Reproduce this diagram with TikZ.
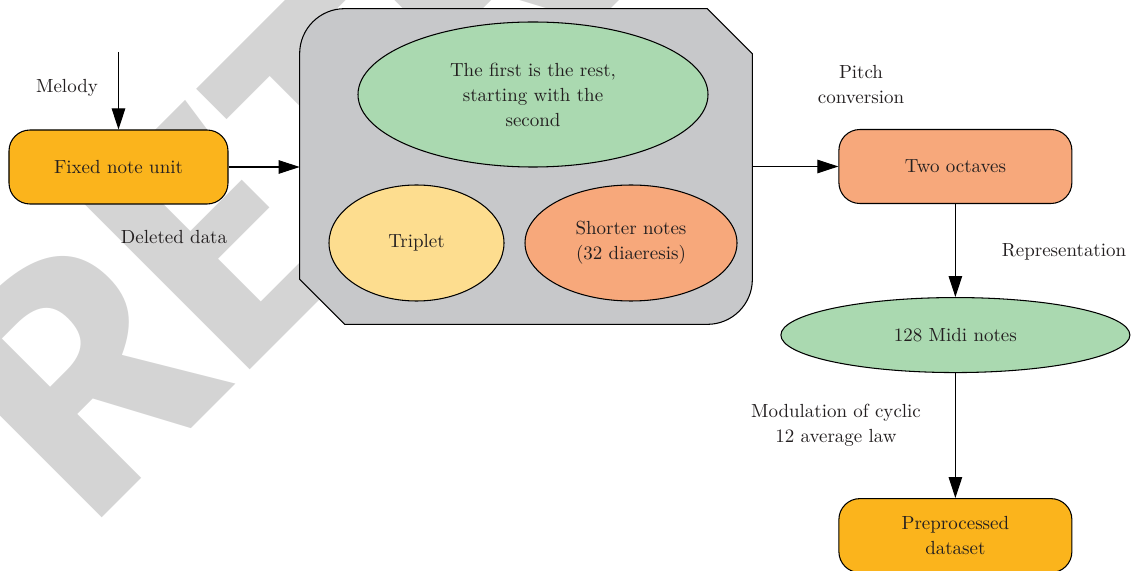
\documentclass[tikz,border=0pt]{standalone}
\usepackage{fontspec}
\newfontfamily\markfont{Fira Sans}
\usetikzlibrary{shapes,arrows.meta,positioning}
\definecolor{myorange}{RGB}{251,180,28}
\definecolor{mygreen}{RGB}{170,217,176}
\definecolor{myyellow}{RGB}{253,221,143}
\definecolor{mysalmon}{RGB}{247,168,123}
\definecolor{mygray}{RGB}{199,200,202}
\definecolor{mymark}{RGB}{212,212,212}
\definecolor{myink}{RGB}{35,31,32}

\begin{document}
\begin{tikzpicture}[
    font=\fontsize{10.8}{14.2}\selectfont,
    unit/.style={rectangle, draw, fill=myorange, text=myink, minimum width=4.38cm, minimum height=1.48cm, rounded corners=0.42cm, align=center, line width=0.6pt},
    idea/.style={ellipse, draw, text=myink, align=center, line width=0.6pt, inner sep=1pt},
    tag/.style={text=myink, align=center, inner sep=0pt},
    panel/.style={draw, fill=mygray, line width=0.6pt},
    watermark/.style={rotate=45, anchor=base west, inner sep=0pt, text=mymark, font=\markfont\bfseries\fontsize{194}{194}\selectfont},
    arrow/.style={-{Triangle[length=0.42cm, width=0.27cm]}, line width=0.6pt}
]
\useasboundingbox (0,0) rectangle (22.7,11.4);
\clip (0,0) rectangle (22.7,11.4);

% Stamp behind everything
\node[watermark] (stamp) at (1.72,0.72) {RETRACTED};

% Input side
\node[unit] (fixed) at (2.37,8.06) {Fixed note unit};
\coordinate (melody-in) at (2.37,10.36);
\node[tag] (melody) at (1.34,9.64) {Melody};
\node[tag] (deleted) at (3.48,6.66) {Deleted data};

% Processing block
\node[minimum width=9.04cm, minimum height=6.3cm, inner sep=0pt] (block) at (10.52,8.07) {};
\draw[panel] ([yshift=-0.9cm]block.north east) -- ([xshift=-0.9cm]block.north east)
    -- ([xshift=0.9cm]block.north west) arc[start angle=90, end angle=180, radius=0.9cm]
    -- ([yshift=0.9cm]block.south west) -- ([xshift=0.9cm]block.south west)
    -- ([xshift=-0.9cm]block.south east) arc[start angle=270, end angle=360, radius=0.9cm]
    -- cycle;
\node[idea, fill=mygreen, minimum width=7cm, minimum height=2.9cm] (rest) at (10.66,9.51) {The first is the rest,\\starting with the\\second};
\node[idea, fill=myyellow, minimum width=3.5cm, minimum height=2.32cm] (triplet) at (8.33,6.54) {Triplet};
\node[idea, fill=mysalmon, minimum width=4.24cm, minimum height=2.32cm] (shorter) at (12.62,6.54) {Shorter notes\\(32 diaeresis)};

% Output chain
\node[unit, fill=mysalmon, minimum width=4.66cm, right=1.72cm of block] (octaves) {Two octaves};
\node[idea, fill=mygreen, minimum width=6.98cm, minimum height=1.5cm, below=1.86cm of octaves] (midi) {128 Midi notes};
\node[unit, minimum width=4.66cm, below=2.5cm of midi] (dataset) {Preprocessed\\dataset};

\node[tag] (pitch) at (17.22,9.7) {Pitch\\conversion};
\node[tag] (repr) at (21.28,6.36) {Representation};
\node[tag] (modulation) at (16.72,2.9) {Modulation of cyclic\\12 average law};

% Arrows
\draw[arrow] (melody-in) -- (fixed);
\draw[arrow] (fixed.east) -- (fixed.east -| block.west);
\draw[arrow] (block.east |- octaves.west) -- (octaves.west);
\draw[arrow] (octaves) -- (midi);
\draw[arrow] (midi) -- (dataset);

\end{tikzpicture}
\end{document}
